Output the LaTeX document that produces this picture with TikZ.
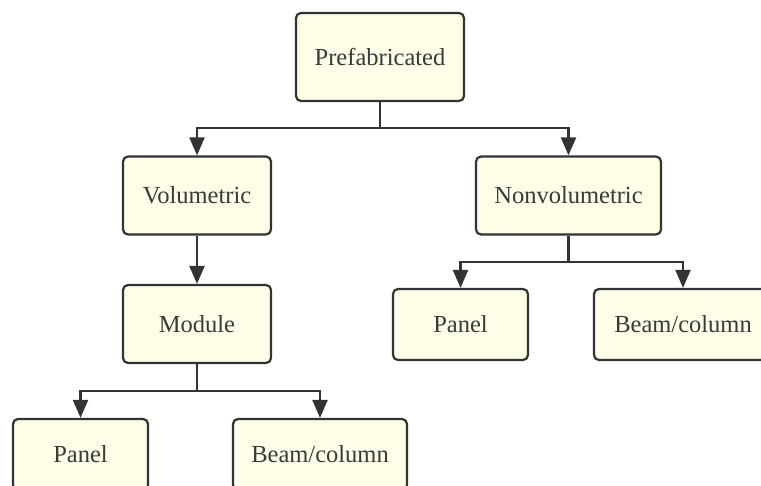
\documentclass[tikz,border=0pt]{standalone}
\usepackage{fontspec}
\setmainfont{Liberation Serif}
\usetikzlibrary{arrows.meta}
\definecolor{boxfill}{HTML}{FDFDE8}
\definecolor{boxline}{HTML}{333333}
\definecolor{txt}{HTML}{3A3A3A}
\begin{document}
\begin{tikzpicture}[x=1pt,y=-1pt,
  box/.style={draw=boxline, fill=boxfill, line width=2.2pt, rounded corners=5pt,
    text=txt, font=\fontsize{24.5}{28}\selectfont, inner sep=0pt, anchor=center},
  link/.style={draw=boxline, line width=2.2pt},
  arr/.style={link, -{Triangle[length=18pt,width=15pt]}}]
\useasboundingbox (0,0) rectangle (761,486);
\clip (0,0) rectangle (761,486);
\fill[white] (0,0) rectangle (761,486);
\node[box, minimum width=168pt, minimum height=88pt] (pre) at (380,57) {Prefabricated};
\node[box, minimum width=148pt, minimum height=78pt] (vol) at (197,195.5) {Volumetric};
\node[box, minimum width=185pt, minimum height=78pt] (non) at (568.5,195.5) {Nonvolumetric};
\node[box, minimum width=148pt, minimum height=78pt] (mod) at (197,324) {Module};
\node[box, minimum width=135pt, minimum height=71pt] (pr) at (460.5,324.5) {Panel};
\node[box, minimum width=178pt, minimum height=71pt] (br) at (683,324.5) {Beam/column};
\node[box, minimum width=135pt, minimum height=71pt] (pl) at (80.5,454.5) {Panel};
\node[box, minimum width=174pt, minimum height=71pt] (bl) at (320,454.5) {Beam/column};
\coordinate (j1) at (380,128);
\coordinate (j2) at (568.5,262);
\coordinate (j3) at (197,391);
\draw[link] (pre.south) -- (j1);
\draw[arr] (j1) -| (vol.north);
\draw[arr] (j1) -| (non.north);
\draw[arr] (vol.south) -- (mod.north);
\draw[link] (non.south) -- (j2);
\draw[arr] (j2) -| (pr.north);
\draw[arr] (j2) -| (br.north);
\draw[link] (mod.south) -- (j3);
\draw[arr] (j3) -| (pl.north);
\draw[arr] (j3) -| (bl.north);
\end{tikzpicture}
\end{document}
